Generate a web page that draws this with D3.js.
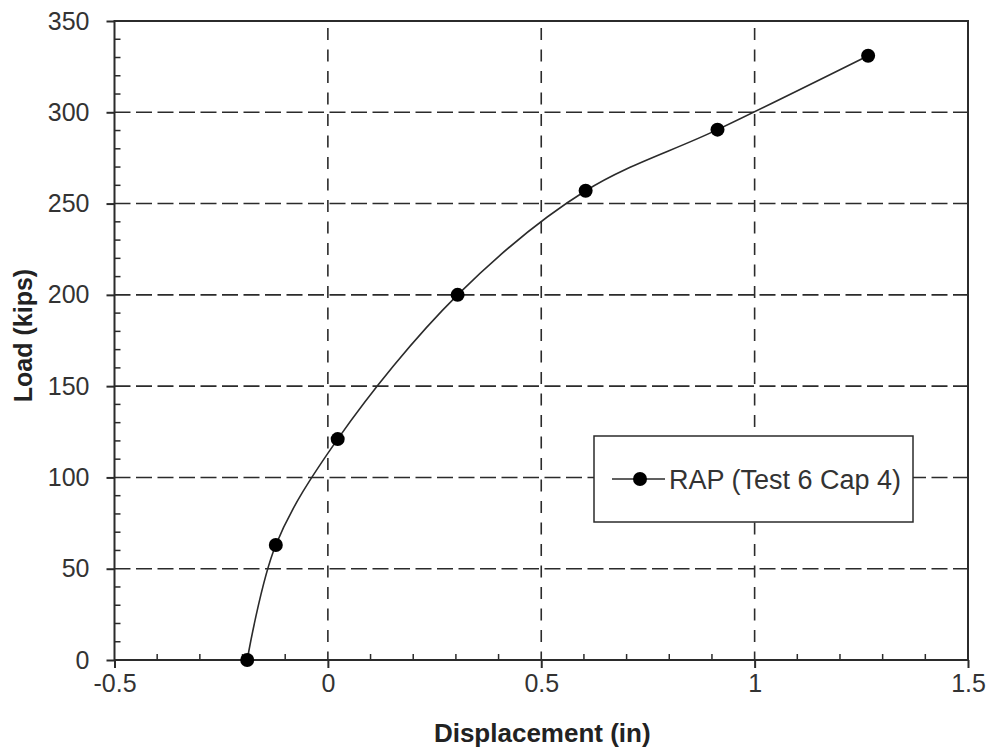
<!DOCTYPE html>
<html><head><meta charset="utf-8">
<script src="https://cdn.jsdelivr.net/npm/d3@7"></script>
<style>html,body{margin:0;padding:0;background:#fff;}svg{display:block;}</style>
</head><body>
<svg id="chart" width="988" height="750"></svg>
<script>
const displacement = [-0.189, -0.122, 0.023, 0.304, 0.604, 0.913, 1.266];
const load = [0, 63, 121, 200, 257, 290.5, 331];
const seriesName = "RAP (Test 6 Cap 4)";
const xTicks = [-0.5, 0, 0.5, 1, 1.5];
const xTickLabels = ["-0.5", "0", "0.5", "1", "1.5"];
const yTicks = [0, 50, 100, 150, 200, 250, 300, 350];
const yTickLabels = ["0", "50", "100", "150", "200", "250", "300", "350"];
const xTitle = "Displacement (in)";
const yTitle = "Load (kips)";

const svg = d3.select("#chart");
const L = 114.5, R = 968, T = 21, B = 660;
const x = d3.scaleLinear().domain([-0.5, 1.5]).range([L, R]);
const y = d3.scaleLinear().domain([0, 350]).range([B, T]);
const ink = "#2b2b2b";
const font = "'Liberation Sans', Arial, sans-serif";

// gridlines
const grid = svg.append("g").attr("stroke", ink).attr("stroke-width", 1.6);
grid.selectAll(".gx").data(xTicks.slice(1, -1)).join("line")
  .attr("stroke-dasharray", "12,9.5")
  .attr("x1", d => x(d)).attr("x2", d => x(d)).attr("y1", T + 7).attr("y2", B);
grid.selectAll(".gy").data(yTicks.slice(1, -1)).join("line")
  .attr("stroke-dasharray", "16,5.5")
  .attr("y1", d => y(d)).attr("y2", d => y(d)).attr("x1", L).attr("x2", R);

// frame
svg.append("rect").attr("x", L).attr("y", T).attr("width", R - L).attr("height", B - T)
  .attr("fill", "none").attr("stroke", ink).attr("stroke-width", 2);

// minor ticks (inward)
const xMinor = d3.range(-0.4, 1.5, 0.1).filter(v => Math.abs(v * 2 - Math.round(v * 2)) > 1e-6);
const yMinor = d3.range(10, 350, 10).filter(v => v % 50 !== 0);
svg.append("g").selectAll("line").data(xMinor).join("line")
  .attr("x1", d => x(d)).attr("x2", d => x(d)).attr("y1", B).attr("y2", B - 6)
  .attr("stroke", ink).attr("stroke-width", 1.5);
svg.append("g").selectAll("line").data(yMinor).join("line")
  .attr("y1", d => y(d)).attr("y2", d => y(d)).attr("x1", L).attr("x2", L + 6)
  .attr("stroke", ink).attr("stroke-width", 1.5);

// major axes with outward ticks
const xAxis = d3.axisBottom(x).tickValues(xTicks).tickFormat((d, i) => xTickLabels[i]).tickSizeOuter(0).tickSizeInner(8).tickPadding(6);
const gx = svg.append("g").attr("transform", `translate(0,${B})`).call(xAxis);
const yAxis = d3.axisLeft(y).tickValues(yTicks).tickFormat((d, i) => yTickLabels[i]).tickSizeOuter(0).tickSizeInner(8).tickPadding(17);
const gy = svg.append("g").attr("transform", `translate(${L},0)`).call(yAxis);
[gx, gy].forEach(g => {
  g.select(".domain").remove();
  g.selectAll(".tick line").attr("stroke", ink).attr("stroke-width", 2);
  g.selectAll(".tick text").attr("fill", "#333").attr("font-family", font).attr("font-size", 25);
});

// curve
const pts = displacement.map((d, i) => [x(d), y(load[i])]);
svg.append("path").attr("d", d3.line().curve(d3.curveCatmullRom.alpha(0.5))(pts))
  .attr("fill", "none").attr("stroke", ink).attr("stroke-width", 1.6);
svg.append("g").selectAll("circle").data(pts).join("circle")
  .attr("cx", d => d[0]).attr("cy", d => d[1]).attr("r", 7).attr("fill", "#000");

// legend
const lg = svg.append("g");
lg.append("rect").attr("x", 594).attr("y", 436).attr("width", 319).attr("height", 86)
  .attr("fill", "#fff").attr("stroke", ink).attr("stroke-width", 1.5);
lg.append("line").attr("x1", 612).attr("x2", 665).attr("y1", 479).attr("y2", 479).attr("stroke", ink).attr("stroke-width", 1.6);
lg.append("circle").attr("cx", 640).attr("cy", 479).attr("r", 7).attr("fill", "#000");
lg.append("text").attr("x", 669).attr("y", 488.5).attr("font-family", font).attr("font-size", 27)
  .attr("fill", "#333").text(seriesName);

// titles
svg.append("text").attr("x", (L + R) / 2 + 1).attr("y", 742).attr("text-anchor", "middle")
  .attr("font-family", font).attr("font-weight", "bold").attr("font-size", 26).attr("fill", "#222").text(xTitle);
svg.append("text").attr("transform", `translate(32,${(T + B) / 2 - 5}) rotate(-90)`).attr("text-anchor", "middle")
  .attr("font-family", font).attr("font-weight", "bold").attr("font-size", 25).attr("fill", "#222").text(yTitle);
</script>
</body></html>
